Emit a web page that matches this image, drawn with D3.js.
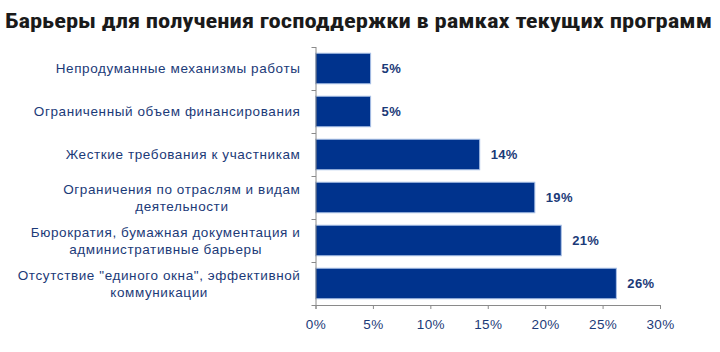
<!DOCTYPE html>
<html>
<head>
<meta charset="utf-8">
<script src="https://cdn.jsdelivr.net/npm/d3@7"></script>
<style>
  body { margin: 0; background: #fff; }
  svg { display: block; }
</style>
</head>
<body>
<svg id="chart"></svg>
<script>
(function() {

// data
var categories = [
  ["Непродуманные механизмы работы"],
  ["Ограниченный объем финансирования"],
  ["Жесткие требования к участникам"],
  ["Ограничения по отраслям и видам", "деятельности"],
  ["Бюрократия, бумажная документация и", "административные барьеры"],
  ["Отсутствие \"единого окна\", эффективной", "коммуникации"]
];
var values = [4.8, 4.8, 14.3, 19.1, 21.4, 26.2];
var valueLabels = ["5%", "5%", "14%", "19%", "21%", "26%"];
var xTicks = [0, 5, 10, 15, 20, 25, 30];

var width = 720, height = 352;
var margin = {top: 47, right: 60, bottom: 47, left: 315.5};
var w = width - margin.left - margin.right,
    h = height - margin.top - margin.bottom;

var textColor = "#1b3a78",
    barColor = "#00338d",
    axisColor = "#8a8a8a",
    font = "'Liberation Sans', Arial, sans-serif";

var svg = d3.select("#chart")
    .attr("width", width)
    .attr("height", height);

// title
svg.append("text")
  .attr("x", 5)
  .attr("y", 28)
  .attr("font-family", "'Liberation Sans Narrow', 'Roboto Condensed', 'Liberation Sans', sans-serif")
  .attr("font-weight", "bold")
  .attr("font-size", 21)
  .attr("fill", "#1a1a1a")
  .attr("textLength", 707)
  .attr("lengthAdjust", "spacingAndGlyphs")
  .text("Барьеры для получения господдержки в рамках текущих программ");

var g = svg.append("g").attr("transform", "translate(" + margin.left + "," + margin.top + ")");

var x = d3.scaleLinear().domain([0, 30]).range([0, 344.5]);
var y = d3.scaleBand().domain(d3.range(categories.length)).range([0, h]).paddingInner(0.29).paddingOuter(0.145);

// bars
g.selectAll(".bar")
  .data(values)
  .enter().append("rect")
    .attr("class", "bar")
    .attr("x", x(0))
    .attr("y", function(d, i) { return y(i); })
    .attr("width", function(d) { return x(d) - x(0); })
    .attr("height", y.bandwidth())
    .attr("fill", barColor)
    .attr("stroke", "#a9c0e6")
    .attr("stroke-width", 1);

// value labels
g.selectAll(".val")
  .data(values)
  .enter().append("text")
    .attr("class", "val")
    .attr("x", function(d) { return x(d) + 11; })
    .attr("y", function(d, i) { return y(i) + y.bandwidth() / 2; })
    .attr("dy", "0.35em")
    .attr("font-family", font)
    .attr("font-weight", "bold")
    .attr("font-size", 13)
    .attr("letter-spacing", 0.3)
    .attr("fill", textColor)
    .text(function(d, i) { return valueLabels[i]; });

// y axis: line and ticks at band edges
var step = h / categories.length;
g.append("line")
  .attr("x1", 0.5).attr("x2", 0.5)
  .attr("y1", 0).attr("y2", h)
  .attr("stroke", axisColor);
g.selectAll(".ytick")
  .data(d3.range(categories.length + 1))
  .enter().append("line")
    .attr("class", "ytick")
    .attr("x1", -4).attr("x2", 0.5)
    .attr("y1", function(d) { return Math.round(d * step) + 0.5; })
    .attr("y2", function(d) { return Math.round(d * step) + 0.5; })
    .attr("stroke", axisColor);

// category labels
var labelRight = -15;
categories.forEach(function(lines, i) {
  var cy = y(i) + y.bandwidth() / 2;
  var lh = 17;
  var top = cy - (lines.length - 1) * lh / 2;
  var t0 = g.append("text")
    .attr("x", labelRight)
    .attr("y", top)
    .attr("dy", "0.35em")
    .attr("text-anchor", "end")
    .attr("font-family", font)
    .attr("font-size", 13.5)
    .attr("letter-spacing", 0.6)
    .attr("fill", textColor)
    .text(lines[0]);
  var lw = t0.node().getComputedTextLength();
  for (var k = 1; k < lines.length; k++) {
    g.append("text")
      .attr("x", labelRight - lw / 2)
      .attr("y", top + k * lh)
      .attr("dy", "0.35em")
      .attr("text-anchor", "middle")
      .attr("font-family", font)
      .attr("font-size", 13.5)
      .attr("letter-spacing", 0.6)
      .attr("fill", textColor)
      .text(lines[k]);
  }
});

// x axis
var xAxis = g.append("g")
  .attr("transform", "translate(0," + h + ")")
  .call(d3.axisBottom(x).tickValues(xTicks).tickSize(4).tickFormat(function(d) { return d + "%"; }));
xAxis.select(".domain").attr("stroke", axisColor);
xAxis.selectAll(".tick line").attr("stroke", axisColor);
xAxis.selectAll(".tick text")
  .attr("y", 14)
  .attr("font-family", font)
  .attr("font-size", 13.5)
  .attr("letter-spacing", 0.4)
  .attr("fill", textColor);

})();
</script>
</body>
</html>
